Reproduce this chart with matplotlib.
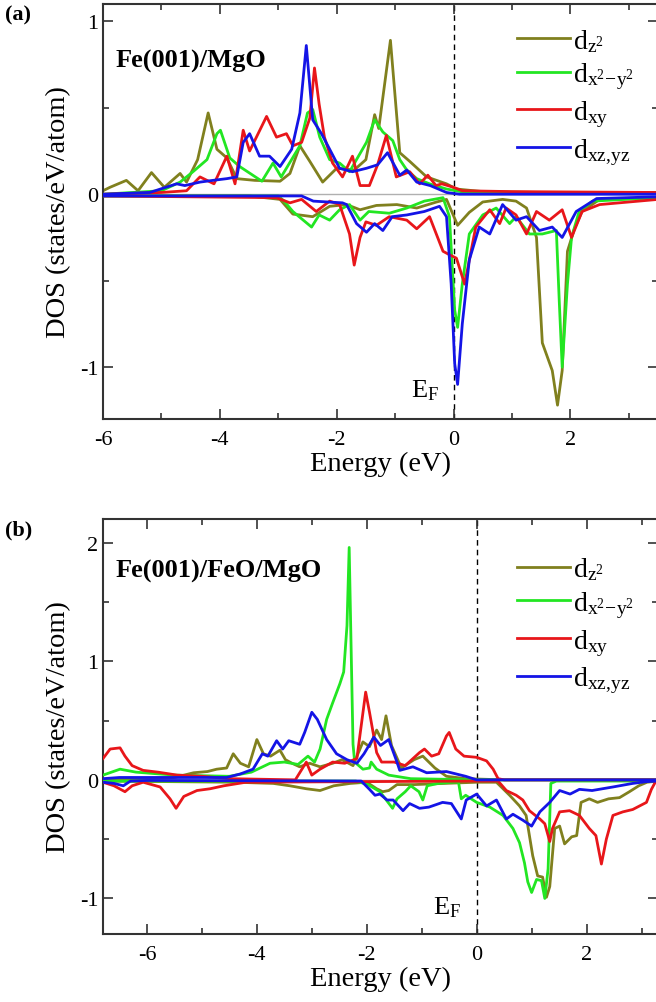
import matplotlib
matplotlib.use('Agg')
import matplotlib.pyplot as plt
from matplotlib.ticker import MultipleLocator

plt.rcParams['font.family'] = ['Liberation Serif', 'DejaVu Serif']
plt.rcParams['mathtext.fontset'] = 'custom'
plt.rcParams['mathtext.rm'] = 'Liberation Serif'
plt.rcParams['mathtext.it'] = 'Liberation Serif:italic'
plt.rcParams['mathtext.bf'] = 'Liberation Serif:bold'
plt.rcParams['axes.unicode_minus'] = False

orbitals = [r'$\mathrm{d_{z^2}}$', r'$\mathrm{d_{x^2\!-\!y^2}}$', r'$\mathrm{d_{xy}}$', r'$\mathrm{d_{xz{,}yz}}$']
colors = ['#80801e', '#22e622', '#e8161a', '#1414e6']

# ---- (a) Fe(001)/MgO ----
a_dz2_up_E = [-6.0, -5.88, -5.6, -5.4, -5.17, -4.95, -4.68, -4.57, -4.38, -4.2, -4.05, -3.88, -3.71, -3.4, -2.97, -2.8, -2.63, -2.46, -2.24, -2.0, -1.7, -1.5, -1.35, -1.28, -1.08, -0.92, -0.75, -0.46, -0.12, 0.05, 0.5, 1.5, 2.5, 3.5]
a_dz2_up = [0.02, 0.04, 0.08, 0.02, 0.125, 0.04, 0.12, 0.07, 0.2, 0.47, 0.26, 0.21, 0.09, 0.08, 0.075, 0.12, 0.28, 0.19, 0.07, 0.15, 0.14, 0.2, 0.46, 0.38, 0.89, 0.24, 0.19, 0.10, 0.06, 0.03, 0.015, 0.01, 0.01, 0.01]
a_dx2_up_E = [-6.0, -5.0, -4.68, -4.46, -4.22, -4.05, -3.99, -3.83, -3.66, -3.28, -3.09, -2.95, -2.63, -2.5, -2.41, -2.29, -2.12, -1.95, -1.78, -1.49, -1.35, -1.21, -1.04, -0.92, -0.8, -0.63, -0.41, -0.12, 0.2, 1.5, 3.5]
a_dx2_up = [0.0, 0.02, 0.07, 0.13, 0.2, 0.35, 0.37, 0.21, 0.16, 0.075, 0.18, 0.1, 0.28, 0.47, 0.49, 0.33, 0.2, 0.18, 0.13, 0.3, 0.43, 0.36, 0.31, 0.2, 0.14, 0.09, 0.06, 0.03, 0.01, 0.005, 0.005]
a_dxy_up_E = [-6.0, -5.0, -4.57, -4.34, -4.1, -3.88, -3.74, -3.6, -3.49, -3.2, -3.03, -2.86, -2.75, -2.6, -2.46, -2.38, -2.3, -2.21, -2.07, -1.9, -1.73, -1.6, -1.44, -1.3, -1.15, -0.98, -0.75, -0.58, -0.44, -0.3, -0.2, 0.0, 0.15, 1.0, 3.5]
a_dxy_up = [0.0, 0.01, 0.02, 0.1, 0.06, 0.22, 0.06, 0.37, 0.25, 0.45, 0.33, 0.35, 0.28, 0.3, 0.44, 0.73, 0.52, 0.33, 0.18, 0.1, 0.22, 0.05, 0.05, 0.17, 0.34, 0.1, 0.13, 0.06, 0.11, 0.05, 0.06, 0.04, 0.02, 0.015, 0.01]
a_dxz_up_E = [-6.0, -5.2, -4.74, -4.6, -4.34, -4.12, -3.88, -3.71, -3.6, -3.49, -3.32, -3.15, -2.97, -2.77, -2.63, -2.52, -2.41, -2.26, -2.12, -1.95, -1.73, -1.49, -1.3, -1.13, -0.92, -0.8, -0.63, -0.4, -0.12, 0.1, 3.5]
a_dxz_up = [0.0, 0.01, 0.06, 0.05, 0.07, 0.08, 0.09, 0.1, 0.3, 0.35, 0.22, 0.22, 0.16, 0.26, 0.47, 0.86, 0.43, 0.35, 0.26, 0.15, 0.13, 0.15, 0.17, 0.24, 0.11, 0.14, 0.07, 0.05, 0.01, 0.0, 0.0]

a_dz2_dn_E = [-6.0, -3.5, -2.97, -2.75, -2.41, -2.12, -1.83, -1.6, -1.32, -0.97, -0.63, -0.29, -0.12, 0.07, 0.27, 0.5, 0.84, 1.07, 1.25, 1.42, 1.52, 1.69, 1.78, 1.86, 1.95, 2.07, 2.2, 2.5, 3.5]
a_dz2_dn = [-0.01, -0.01, -0.03, -0.115, -0.13, -0.07, -0.06, -0.09, -0.065, -0.06, -0.08, -0.045, -0.03, -0.18, -0.105, -0.045, -0.03, -0.04, -0.08, -0.25, -0.86, -1.02, -1.22, -1.02, -0.33, -0.2, -0.1, -0.03, -0.02]
a_dx2_dn_E = [-6.0, -3.0, -2.9, -2.75, -2.43, -2.3, -2.12, -1.95, -1.78, -1.6, -1.45, -1.1, -0.8, -0.5, -0.18, -0.07, 0.02, 0.07, 0.15, 0.27, 0.5, 0.73, 0.96, 1.07, 1.3, 1.52, 1.76, 1.81, 1.86, 1.95, 2.02, 2.15, 2.38, 3.5]
a_dx2_dn = [-0.01, -0.01, -0.04, -0.1, -0.19, -0.12, -0.15, -0.09, -0.06, -0.15, -0.1, -0.11, -0.08, -0.04, -0.02, -0.13, -0.67, -0.77, -0.52, -0.23, -0.12, -0.08, -0.17, -0.13, -0.23, -0.23, -0.21, -0.62, -1.0, -0.52, -0.25, -0.1, -0.04, -0.02]
a_dxy_dn_E = [-6.0, -3.03, -2.8, -2.6, -2.35, -2.12, -1.95, -1.78, -1.7, -1.6, -1.5, -1.32, -1.1, -0.8, -0.63, -0.41, -0.18, -0.07, 0.05, 0.19, 0.3, 0.38, 0.62, 0.79, 0.9, 1.07, 1.25, 1.42, 1.64, 1.86, 2.02, 2.2, 2.5, 3.5]
a_dxy_dn = [-0.01, -0.02, -0.05, -0.03, -0.1, -0.04, -0.06, -0.23, -0.41, -0.25, -0.16, -0.18, -0.13, -0.15, -0.2, -0.13, -0.33, -0.35, -0.37, -0.52, -0.33, -0.19, -0.09, -0.17, -0.08, -0.12, -0.23, -0.1, -0.15, -0.09, -0.25, -0.1, -0.06, -0.03]
a_dxz_dn_E = [-6.0, -2.6, -2.4, -1.9, -1.83, -1.66, -1.49, -1.35, -1.21, -1.05, -0.8, -0.5, -0.24, -0.12, -0.04, 0.02, 0.07, 0.15, 0.27, 0.44, 0.62, 0.84, 1.07, 1.25, 1.47, 1.69, 1.86, 2.1, 2.45, 3.5]
a_dxz_dn = [-0.01, -0.01, -0.04, -0.05, -0.06, -0.17, -0.22, -0.17, -0.21, -0.13, -0.12, -0.1, -0.07, -0.13, -0.52, -0.98, -1.1, -0.75, -0.38, -0.19, -0.23, -0.06, -0.15, -0.13, -0.21, -0.19, -0.25, -0.1, -0.025, -0.015]

# ---- (b) Fe(001)/FeO/MgO ----
b_dz2_up_E = [-6.8, -5.5, -5.15, -4.9, -4.73, -4.55, -4.43, -4.3, -4.15, -4.0, -3.88, -3.75, -3.58, -3.48, -3.36, -3.22, -3.04, -2.85, -2.62, -2.45, -2.25, -2.07, -1.95, -1.82, -1.73, -1.65, -1.55, -1.37, -1.14, -0.98, -0.76, -0.55, -0.2, 0.5, 3.3]
b_dz2_up = [0.0, 0.02, 0.06, 0.07, 0.09, 0.1, 0.22, 0.14, 0.11, 0.34, 0.22, 0.2, 0.25, 0.17, 0.14, 0.11, 0.14, 0.11, 0.14, 0.17, 0.12, 0.32, 0.28, 0.42, 0.34, 0.54, 0.29, 0.1, 0.17, 0.2, 0.1, 0.03, 0.01, 0.0, 0.0]
b_dx2_up_E = [-6.8, -6.49, -6.2, -5.5, -4.5, -4.1, -3.76, -3.5, -3.25, -3.07, -2.95, -2.85, -2.73, -2.62, -2.49, -2.42, -2.36, -2.32, -2.28, -2.25, -2.22, -2.07, -1.95, -1.92, -1.82, -1.6, -1.2, 0.0, 3.3]
b_dx2_up = [0.04, 0.09, 0.065, 0.04, 0.03, 0.065, 0.14, 0.15, 0.13, 0.2, 0.15, 0.26, 0.51, 0.65, 0.81, 0.91, 1.3, 1.96, 1.0, 0.3, 0.15, 0.09, 0.1, 0.15, 0.09, 0.04, 0.01, 0.0, 0.0]
b_dxy_up_E = [-6.8, -6.67, -6.49, -6.4, -6.27, -6.07, -5.8, -5.45, -5.0, -4.5, -3.3, -3.1, -3.0, -2.85, -2.62, -2.4, -2.18, -2.02, -1.95, -1.82, -1.73, -1.5, -1.3, -1.04, -0.95, -0.82, -0.69, -0.55, -0.5, -0.38, -0.23, 0.0, 0.18, 0.3, 0.39, 0.5, 3.3]
b_dxy_up = [0.18, 0.26, 0.27, 0.2, 0.12, 0.08, 0.065, 0.04, 0.03, 0.01, 0.0, 0.15, 0.04, 0.09, 0.15, 0.14, 0.18, 0.74, 0.57, 0.23, 0.15, 0.15, 0.12, 0.23, 0.26, 0.2, 0.22, 0.37, 0.4, 0.26, 0.2, 0.19, 0.16, 0.09, 0.01, 0.0, 0.0]
b_dxz_up_E = [-6.8, -6.5, -4.55, -4.3, -4.07, -3.9, -3.8, -3.64, -3.53, -3.42, -3.22, -3.13, -3.0, -2.9, -2.73, -2.55, -2.36, -2.18, -2.05, -1.87, -1.75, -1.6, -1.45, -1.4, -1.16, -0.91, -0.55, -0.2, 0.0, 3.3]
b_dxz_up = [0.01, 0.02, 0.02, 0.05, 0.09, 0.22, 0.2, 0.33, 0.26, 0.33, 0.3, 0.4, 0.57, 0.51, 0.34, 0.22, 0.17, 0.14, 0.22, 0.36, 0.29, 0.34, 0.15, 0.08, 0.11, 0.06, 0.07, 0.03, 0.0, 0.0]

b_dz2_dn_E = [-6.8, -4.4, -3.7, -3.4, -3.1, -2.85, -2.6, -2.3, -2.0, -1.82, -1.71, -1.6, -1.45, -1.14, -0.6, 0.0, 0.36, 0.6, 0.78, 0.9, 1.02, 1.11, 1.2, 1.27, 1.33, 1.42, 1.51, 1.6, 1.73, 1.82, 1.9, 2.05, 2.2, 2.4, 2.6, 2.78, 2.95, 3.1, 3.3]
b_dz2_dn = [-0.01, -0.02, -0.03, -0.05, -0.075, -0.09, -0.05, -0.03, -0.02, -0.075, -0.1, -0.09, -0.04, -0.04, -0.03, -0.02, -0.02, -0.13, -0.22, -0.3, -0.64, -0.81, -0.82, -0.99, -0.9, -0.41, -0.39, -0.54, -0.48, -0.47, -0.19, -0.16, -0.19, -0.16, -0.15, -0.1, -0.05, -0.02, -0.01]
b_dx2_dn_E = [-6.8, -2.2, -1.98, -1.76, -1.53, -1.45, -1.3, -1.2, -1.05, -0.98, -0.9, -0.7, -0.45, -0.33, -0.28, -0.2, 0.0, 0.24, 0.48, 0.66, 0.78, 0.87, 0.93, 1.0, 1.09, 1.18, 1.24, 1.3, 1.35, 1.45, 3.3]
b_dx2_dn = [-0.01, -0.01, -0.04, -0.1, -0.24, -0.16, -0.1, -0.05, -0.1, -0.17, -0.05, -0.03, -0.02, -0.02, -0.16, -0.13, -0.19, -0.23, -0.3, -0.41, -0.53, -0.7, -0.86, -0.95, -0.84, -0.85, -1.0, -0.75, -0.03, -0.01, -0.01]
b_dxy_dn_E = [-6.8, -6.6, -6.4, -6.27, -6.07, -5.76, -5.58, -5.47, -5.33, -5.09, -4.85, -4.6, -4.2, 0.0, 0.39, 0.54, 0.72, 0.84, 0.96, 1.15, 1.24, 1.33, 1.38, 1.51, 1.69, 1.87, 2.05, 2.17, 2.27, 2.36, 2.48, 2.66, 2.84, 3.09, 3.18, 3.25, 3.3]
b_dxy_dn = [-0.02, -0.05, -0.1, -0.05, -0.02, -0.06, -0.16, -0.24, -0.14, -0.09, -0.075, -0.05, -0.02, -0.01, -0.01, -0.09, -0.13, -0.17, -0.26, -0.33, -0.37, -0.52, -0.41, -0.27, -0.26, -0.3, -0.41, -0.47, -0.71, -0.5, -0.3, -0.27, -0.25, -0.19, -0.08, -0.02, 0.0]
b_dxz_dn_E = [-6.8, -6.6, -6.43, -6.3, -6.0, -2.1, -1.95, -1.85, -1.76, -1.63, -1.52, -1.34, -1.22, -1.04, -0.87, -0.62, -0.46, -0.28, -0.19, 0.0, 0.18, 0.36, 0.54, 0.66, 0.84, 1.0, 1.15, 1.33, 1.51, 1.7, 1.87, 2.1, 2.48, 2.84, 3.09, 3.3]
b_dxz_dn = [-0.02, -0.03, -0.05, -0.01, -0.005, -0.01, -0.08, -0.13, -0.12, -0.17, -0.17, -0.26, -0.2, -0.24, -0.23, -0.19, -0.2, -0.33, -0.17, -0.12, -0.22, -0.17, -0.33, -0.29, -0.34, -0.39, -0.27, -0.19, -0.09, -0.12, -0.08, -0.09, -0.06, -0.03, -0.015, -0.01]

panels = [
    dict(tag='(a)', title='Fe(001)/MgO', xlim=(-6, 3.5), ylim=(-1.3, 1.1), yticks=[-1, 0, 1],
         up=[(a_dz2_up_E, a_dz2_up), (a_dx2_up_E, a_dx2_up), (a_dxy_up_E, a_dxy_up), (a_dxz_up_E, a_dxz_up)],
         dn=[(a_dz2_dn_E, a_dz2_dn), (a_dx2_dn_E, a_dx2_dn), (a_dxy_dn_E, a_dxy_dn), (a_dxz_dn_E, a_dxz_dn)],
         ef=(-0.72, -1.167), box=[103, 5], title_y=0.863, leg_y=0.945),
    dict(tag='(b)', title='Fe(001)/FeO/MgO', xlim=(-6.8, 3.3), ylim=(-1.3, 2.2), yticks=[-1, 0, 1, 2],
         up=[(b_dz2_up_E, b_dz2_up), (b_dx2_up_E, b_dx2_up), (b_dxy_up_E, b_dxy_up), (b_dxz_up_E, b_dxz_up)],
         dn=[(b_dz2_dn_E, b_dz2_dn), (b_dx2_dn_E, b_dx2_dn), (b_dxy_dn_E, b_dxy_dn), (b_dxz_dn_E, b_dxz_dn)],
         ef=(-0.8, -1.13), box=[103, 520], title_y=0.875, leg_y=0.912),
]

W, H = 656, 1003
fig = plt.figure(figsize=(W / 100, H / 100), dpi=100)

for p in panels:
    x0, top = p['box']
    ax = fig.add_axes([x0 / W, 1 - (top + 415) / H, 555 / W, 415 / H])
    ax.axhline(0, color='#b0b0b0', lw=1, zorder=1)
    ax.axvline(0, color='black', lw=1, ls=(0, (4, 3)), zorder=1)
    lines = []
    for k in range(4):
        e, d = p['up'][k]
        ln, = ax.plot(e, d, color=colors[k], lw=2, zorder=2 + k)
        e, d = p['dn'][k]
        ax.plot(e, d, color=colors[k], lw=2, zorder=2 + k)
        lines.append(ln)
    ax.set_xlim(*p['xlim'])
    ax.set_ylim(*p['ylim'])
    ax.xaxis.set_major_locator(MultipleLocator(2))
    ax.xaxis.set_minor_locator(MultipleLocator(1))
    ax.set_yticks(p['yticks'])
    ax.yaxis.set_minor_locator(MultipleLocator(0.5))
    ax.tick_params(which='both', direction='in', top=True, right=True, labelsize=16, width=1.2, color='#333333')
    ax.tick_params(which='major', length=7)
    ax.tick_params(which='minor', length=4)
    ax.tick_params(axis='x', which='major', pad=8)
    for s in ax.spines.values():
        s.set_linewidth(1.5)
        s.set_color('#333333')
    ax.set_xlabel('Energy (eV)', fontsize=20.5, labelpad=1)
    ax.set_ylabel('DOS (states/eV/atom)', fontsize=20.5, labelpad=6)
    ax.text(0.022, p['title_y'], p['title'], transform=ax.transAxes, fontsize=19,
            fontweight='bold', va='center', ha='left')
    ax.text(p['ef'][0], p['ef'][1], r'E$_\mathrm{F}$', fontsize=19, ha='left', va='baseline')
    ax.legend(lines, orbitals, loc='upper left', bbox_to_anchor=(0.746, p['leg_y']),
              frameon=False, fontsize=20, handlelength=1.9, handletextpad=0.1,
              labelspacing=0.25, borderpad=0, borderaxespad=0)
    fig.text(x0 / W - 0.149, 1 - (top + 10) / H, p['tag'], fontsize=16, fontweight='bold',
             va='center', ha='left')

fig.savefig('out.png', dpi=100)
